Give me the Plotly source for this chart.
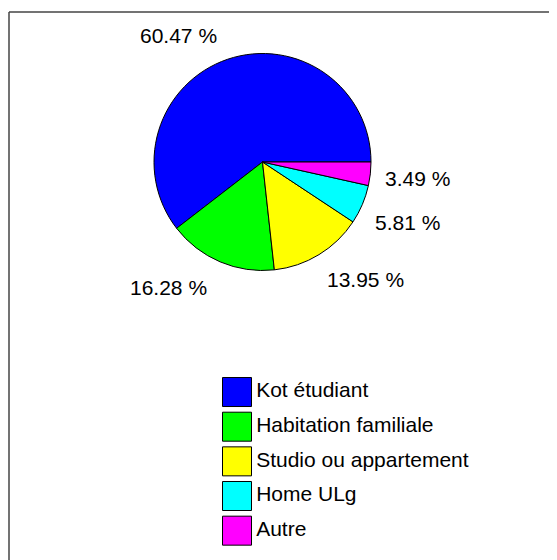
import plotly.graph_objects as go

# Data
labels = ["Kot étudiant", "Habitation familiale", "Studio ou appartement", "Home ULg", "Autre"]
counts = [52, 14, 12, 5, 3]
colors = ["#0000FF", "#00FF00", "#FFFF00", "#00FFFF", "#FF00FF"]

# where each percentage label sits (pixels as seen in the page)
label_pos = [(178, 35), (168, 287), (365, 279), (407, 223), (417, 178)]

W, H = 557, 560
OFF = 8  # the page body margin shifts the figure by 8px


def px(x):
    return (x - OFF) / W


def py(y):
    return 1 - (y - OFF) / H


total = sum(counts)
pct_text = [f"{100 * c / total:.2f} %" for c in counts]

# plotly puts the first slice clockwise of `rotation`, the rest go counterclockwise;
# we want Kot (first) to start at 3 o'clock and sweep counterclockwise
start = 90 - 360 * counts[0] / total

fig = go.Figure()

fig.add_trace(go.Pie(
    labels=labels,
    values=counts,
    sort=False,
    direction="counterclockwise",
    rotation=start,
    marker=dict(colors=colors, line=dict(color="black", width=1)),
    textinfo="none",
    domain=dict(x=[px(154), px(371)], y=[py(271), py(53)]),
    showlegend=False,
    hoverinfo="label+percent",
))

# legend drawn as big square markers with text
fig.add_trace(go.Scatter(
    x=[0] * len(labels),
    y=list(range(len(labels))),
    mode="markers+text",
    marker=dict(symbol="square", size=29, color=colors, line=dict(color="black", width=1)),
    text=labels,
    textposition="middle right",
    textfont=dict(size=21, color="black"),
    cliponaxis=False,
    showlegend=False,
    hoverinfo="skip",
))

for (lx, ly), t in zip(label_pos, pct_text):
    fig.add_annotation(
        x=px(lx), y=py(ly), xref="paper", yref="paper",
        text=t, showarrow=False, xanchor="center", yanchor="middle",
        font=dict(size=21, color="black"),
    )

# frame lines (top and left only)
fig.add_shape(type="line", xref="paper", yref="paper",
              x0=px(9), x1=1, y0=py(12), y1=py(12),
              line=dict(color="#444444", width=1.5))
fig.add_shape(type="line", xref="paper", yref="paper",
              x0=px(9), x1=px(9), y0=0, y1=py(12),
              line=dict(color="#444444", width=1.5))

fig.update_layout(
    width=W,
    height=H,
    margin=dict(l=0, r=0, t=0, b=0),
    plot_bgcolor="white",
    paper_bgcolor="white",
    font=dict(family="Liberation Sans, Arial, sans-serif", size=21, color="black"),
    xaxis=dict(domain=[px(222), px(252)], range=[-1, 1], visible=False, fixedrange=True),
    yaxis=dict(domain=[py(548), py(374.7)], range=[4.5, -0.5], visible=False, fixedrange=True),
)

fig.write_html("out.html")
